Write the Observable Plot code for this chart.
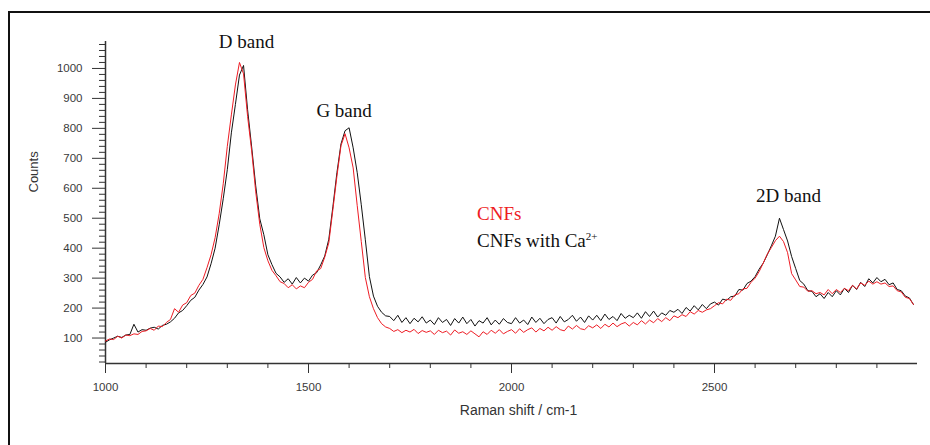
<!DOCTYPE html>
<html><head><meta charset="utf-8">
<script src="https://cdn.jsdelivr.net/npm/d3@7"></script>
<script src="https://cdn.jsdelivr.net/npm/@observablehq/plot@0.6"></script>
<style>
html,body{margin:0;padding:0;background:#fff;overflow:hidden;width:930px;height:445px;}
#wrap{position:relative;width:930px;height:445px;overflow:hidden;}
#chart{position:absolute;left:0;top:0;}
#border{position:absolute;left:8px;top:11px;width:960px;height:480px;border-left:2px solid #111;border-top:2px solid #111;}
.leg{position:absolute;left:477px;font-family:"Liberation Serif","Times New Roman",serif;font-size:19px;line-height:19px;white-space:nowrap;}
.leg sup{font-size:11px;line-height:0;vertical-align:7px;}
</style></head><body>
<div id="wrap">
<div id="chart"></div>
<div id="border"></div>
<div class="leg" id="leg1" style="top:204px;color:#ee1c24">CNFs</div>
<div class="leg" id="leg2" style="top:231px;color:#111">CNFs with Ca<sup>2+</sup></div>
</div>
<script>
// Raman shift (cm-1)
const shift = [
1000,1010,1020,1030,1040,1050,1060,1070,1080,1090,
1100,1110,1120,1130,1140,1150,1160,1170,1180,1190,
1200,1210,1220,1230,1240,1250,1260,1270,1280,1290,
1300,1310,1320,1330,1340,1350,1360,1370,1380,1390,
1400,1410,1420,1430,1440,1450,1460,1470,1480,1490,
1500,1510,1520,1530,1540,1550,1560,1570,1580,1590,
1600,1610,1620,1630,1640,1650,1660,1670,1680,1690,
1700,1710,1720,1730,1740,1750,1760,1770,1780,1790,
1800,1810,1820,1830,1840,1850,1860,1870,1880,1890,
1900,1910,1920,1930,1940,1950,1960,1970,1980,1990,
2000,2010,2020,2030,2040,2050,2060,2070,2080,2090,
2100,2110,2120,2130,2140,2150,2160,2170,2180,2190,
2200,2210,2220,2230,2240,2250,2260,2270,2280,2290,
2300,2310,2320,2330,2340,2350,2360,2370,2380,2390,
2400,2410,2420,2430,2440,2450,2460,2470,2480,2490,
2500,2510,2520,2530,2540,2550,2560,2570,2580,2590,
2600,2610,2620,2630,2640,2650,2660,2670,2680,2690,
2700,2710,2720,2730,2740,2750,2760,2770,2780,2790,
2800,2810,2820,2830,2840,2850,2860,2870,2880,2890,
2900,2910,2920,2930,2940,2950,2960,2970,2980,2990];

// CNFs (red)
const cnfs = [
90,97,95,106,100,110,108,114,112,122,
124,132,126,140,138,152,162,198,186,210,
218,242,250,276,296,335,378,435,515,615,
740,845,945,1020,982,840,725,588,480,402,
358,326,308,288,282,268,278,264,274,268,
286,296,324,332,370,418,528,640,742,782,
735,668,542,422,302,238,198,168,148,137,
132,122,128,118,126,120,129,115,125,119,
124,112,126,118,123,110,127,116,121,112,
124,114,104,121,112,126,116,128,114,122,
128,116,131,119,128,134,120,132,124,136,
126,138,128,124,140,130,142,131,128,141,
134,144,132,146,137,150,138,147,152,140,
152,144,158,147,160,151,165,155,168,158,
174,168,178,172,188,180,192,186,194,198,
208,218,214,230,226,244,248,264,266,286,
300,322,350,380,402,425,440,422,385,315,
294,272,270,256,258,248,252,244,262,248,
262,252,266,258,276,264,284,276,290,280,
288,280,284,272,274,258,254,236,232,212];

// CNFs with Ca2+ (black)
const cnfsCa = [
86,94,100,106,102,110,112,146,120,128,
126,133,136,130,142,146,154,166,184,192,
208,226,236,260,279,304,348,400,478,565,
662,785,880,978,1010,862,738,608,498,445,
378,345,316,304,286,298,280,302,284,300,
290,310,318,344,374,430,538,652,748,792,
802,735,652,545,428,305,240,206,186,174,
172,158,176,152,168,148,166,154,171,150,
160,145,168,152,162,142,165,150,170,148,
162,140,158,150,168,144,160,146,165,152,
148,168,150,160,145,170,152,166,148,162,
168,150,172,154,162,176,156,170,152,174,
160,176,158,180,162,172,158,182,166,176,
168,184,166,188,172,190,170,184,176,192,
186,196,182,202,190,208,194,212,198,214,
220,210,230,226,238,240,262,260,282,290,
305,330,350,378,408,440,500,462,424,372,
332,292,280,258,256,238,248,232,252,238,
258,244,266,252,276,262,286,272,298,284,
302,288,296,278,284,262,258,240,234,212];

const xMajor = [1000,1500,2000,2500];
const xMinor = [1100,1200,1300,1400,1600,1700,1800,1900,2100,2200,2300,2400,2600,2700,2800,2900];
const yMajor = [100,200,300,400,500,600,700,800,900,1000];
const yMinor = [20,40,60,80,120,140,160,180,220,240,260,280,320,340,360,380,420,440,460,480,520,540,560,580,620,640,660,680,720,740,760,780,820,840,860,880,920,940,960,980,1020,1040,1060,1080];

const bandNames = ["D band","G band","2D band"];
const bandPeaks = [1340, 1600, 2660];
const bandDx = [3, -5, 9];
const bandDy = [-17, -11, -16];

const xLabel = "Raman shift / cm-1";
const yLabel = "Counts";

const redData = shift.map((s,i)=>({shift:s, counts:cnfs[i]}));
const blackData = shift.map((s,i)=>({shift:s, counts:cnfsCa[i]}));

const serif = "'Liberation Serif','Times New Roman',serif";
const axisColor = "#333";

const bandMarks = bandNames.map((n,i)=>{
  const j = shift.indexOf(bandPeaks[i]);
  return Plot.text([{shift:bandPeaks[i], counts:cnfsCa[j], name:n}], {
    x:"shift", y:"counts", text:"name", dx:bandDx[i], dy:bandDy[i],
    lineAnchor:"bottom", textAnchor:"middle", fontFamily:serif, fontSize:19, fill:"#111"
  });
});

const chart = Plot.plot({
  width:930, height:445,
  marginLeft:105, marginRight:13, marginTop:41, marginBottom:82,
  style:{background:"transparent", fontFamily:"'Liberation Sans',Arial,sans-serif", fontSize:"11.5px", color:"#333"},
  x:{domain:[1000,3000], label:null},
  y:{domain:[15,1090], label:null},
  marks:[
    Plot.axisX({ticks:xMinor, tickSize:5, fill:"none", stroke:axisColor, label:null}),
    Plot.axisX({ticks:xMajor, tickSize:10, tickPadding:9, stroke:axisColor, fill:"#3a3a3a", tickFormat:d=>String(d), label:null}),
    Plot.axisY({ticks:yMinor, tickSize:6, fill:"none", stroke:axisColor, label:null}),
    Plot.axisY({ticks:yMajor, tickSize:13, tickPadding:10, stroke:axisColor, fill:"#3a3a3a", tickFormat:d=>String(d), label:null}),
    Plot.ruleX([1000], {stroke:axisColor, strokeWidth:1.5}),
    Plot.ruleY([15], {stroke:axisColor, strokeWidth:1.5}),
    Plot.lineY(blackData, {x:"shift", y:"counts", stroke:"#111", strokeWidth:1}),
    Plot.lineY(redData, {x:"shift", y:"counts", stroke:"#ee1c24", strokeWidth:1}),
    ...bandMarks,
    Plot.text([xLabel], {frameAnchor:"bottom", text:d=>d, dx:7, dy:47, lineAnchor:"middle", fontSize:14, fill:"#333"}),
    Plot.text([yLabel], {frameAnchor:"left", text:d=>d, dx:-72, dy:-10, rotate:-90, lineAnchor:"middle", fontSize:13, fill:"#333"})
  ]
});
document.getElementById("chart").appendChild(chart);
</script>
</body></html>
